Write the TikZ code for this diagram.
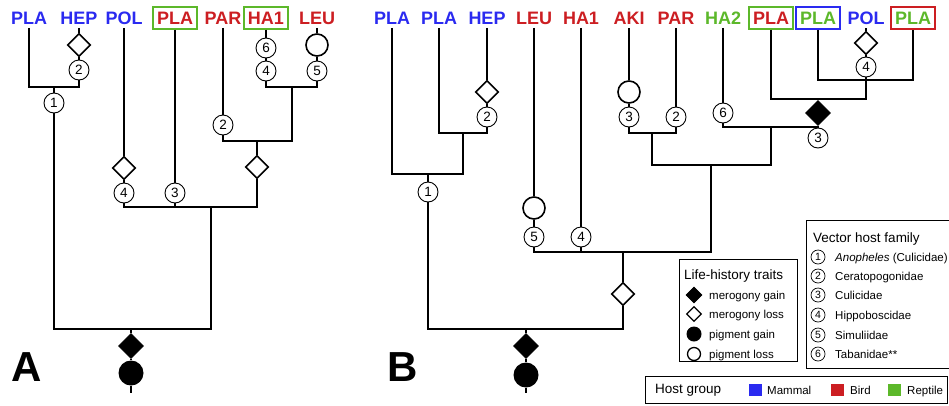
\documentclass[tikz,border=0pt]{standalone}
\usepackage{fontspec}
\setmainfont{Liberation Sans}
\usetikzlibrary{shapes.geometric}
\definecolor{mblue}{HTML}{2A2AF0}
\definecolor{bred}{HTML}{CC1E22}
\definecolor{rgreen}{HTML}{5CB82A}
\begin{document}
\begin{tikzpicture}[x=1pt,y=-1pt,
 tree/.style={line width=1.6pt},
 lab/.style={font=\bfseries\fontsize{18}{18}\selectfont, inner xsep=0pt, inner ysep=3.5pt},
 boxlab/.style={font=\bfseries\fontsize{18}{18}\selectfont, draw, line width=1.4pt, minimum width=44pt, minimum height=22pt, inner sep=0pt},
 num/.style={circle, draw, line width=0.9pt, fill=white, minimum size=20pt, inner sep=0pt, font=\fontsize{13.5}{13.5}\selectfont},
 mgain/.style={diamond, fill=black, draw, line width=0.8pt, minimum size=25pt, inner sep=0pt},
 mloss/.style={diamond, draw, line width=1.6pt, fill=white, minimum size=23pt, inner sep=0pt},
 pgain/.style={circle, fill=black, minimum size=25pt, inner sep=0pt},
 ploss/.style={circle, draw, line width=1.6pt, fill=white, minimum size=22pt, inner sep=0pt},
 bigletter/.style={font=\bfseries\fontsize{42}{42}\selectfont, inner sep=0pt},
 legtitle/.style={anchor=base west, font=\fontsize{13.5}{13.5}\selectfont, inner sep=0pt},
 legtext/.style={anchor=base west, font=\fontsize{11.5}{11.5}\selectfont, inner sep=0pt},
 legnum/.style={circle, draw, line width=0.7pt, minimum size=14pt, inner sep=0pt, font=\fontsize{10.5}{10.5}\selectfont},
 legbox/.style={draw, line width=1pt, anchor=north west, inner sep=0pt},
 swatch/.style={minimum width=13pt, minimum height=12pt, inner sep=0pt},
]
\useasboundingbox (0,0) rectangle (949,405);

% ---------------- Tree A ----------------
\node[lab,mblue] (a1) at (29,18) {PLA};
\node[lab,mblue] (a2) at (79,18) {HEP};
\node[lab,mblue] (a3) at (124,18) {POL};
\node[boxlab,text=bred,draw=rgreen] (a4) at (175,18) {PLA};
\node[lab,bred] (a5) at (223,18) {PAR};
\node[boxlab,text=bred,draw=rgreen] (a6) at (266,18) {HA1};
\node[lab,bred] (a7) at (317,18) {LEU};

\node[mloss] (a2d) at (79,45) {};
\node[num] (a2n) at (79,70) {2};
\coordinate (aj1) at (54,87);
\node[num] (a1n) at (54,103) {1};
\node[mloss] (a3d) at (124,168) {};
\node[num] (a3n) at (124,193) {4};
\node[num] (a4n) at (175,193) {3};
\node[num] (a5n) at (223,125) {2};
\node[num] (a6n6) at (266,48) {6};
\node[num] (a6n4) at (266,71) {4};
\node[ploss] (a7p) at (317,45) {};
\node[num] (a7n) at (317,71) {5};
\coordinate (aj2) at (292,87);
\coordinate (aj3) at (257,141);
\node[mloss] (aj3d) at (257,167) {};
\coordinate (aj4) at (211,207);
\coordinate (aroot) at (131,329);
\node[mgain] (ard) at (131,346) {};
\node[pgain] (arp) at (131,373) {};
\coordinate (aend) at (131,393);

\draw[tree] (a2) -- (a2d) -- (a2n);
\draw[tree] (a1) |- (aj1) -| (a2n);
\draw[tree] (aj1) -- (a1n);
\draw[tree] (a1n) |- (aroot) -| (aj4);
\draw[tree] (a3) -- (a3d) -- (a3n);
\draw[tree] (a3n) |- (aj3d |- aj4) -- (aj3d);
\draw[tree] (a4) -- (a4n) -- (a4n |- aj4);
\draw[tree] (a5) -- (a5n) |- (aj3) -| (aj2);
\draw[tree] (aj3) -- (aj3d);
\draw[tree] (a6) -- (a6n6) -- (a6n4) |- (aj2) -| (a7n);
\draw[tree] (a7) -- (a7p) -- (a7n);
\draw[tree] (aroot) -- (ard) -- (arp) -- (aend);
\node[bigletter] (labA) at (27,367) {A};

% ---------------- Tree B ----------------
\node[lab,mblue] (b1) at (392,18) {PLA};
\node[lab,mblue] (b2) at (439,18) {PLA};
\node[lab,mblue] (b3) at (487,18) {HEP};
\node[lab,bred] (b4) at (534,18) {LEU};
\node[lab,bred] (b5) at (581,18) {HA1};
\node[lab,bred] (b6) at (629,18) {AKI};
\node[lab,bred] (b7) at (676,18) {PAR};
\node[lab,rgreen] (b8) at (723,18) {HA2};
\node[boxlab,text=bred,draw=rgreen] (b9) at (771,18) {PLA};
\node[boxlab,text=rgreen,draw=mblue] (b10) at (818,18) {PLA};
\node[lab,mblue] (b11) at (866,18) {POL};
\node[boxlab,text=rgreen,draw=bred] (b12) at (913,18) {PLA};

\node[mloss] (b3d) at (487,92) {};
\node[num] (b3n) at (487,117) {2};
\coordinate (bj1) at (463,133);
\coordinate (bj2) at (428,174);
\node[num] (b1n) at (428,192) {1};
\node[ploss] (b4p) at (534,208) {};
\node[num] (b4n) at (534,237) {5};
\node[num] (b5n) at (581,237) {4};
\coordinate (bj3) at (623,252);
\node[mloss] (bj3d) at (623,294) {};
\coordinate (broot) at (526,329);
\node[mgain] (brd) at (526,346) {};
\node[pgain] (brp) at (526,375) {};
\coordinate (bend) at (526,393);
\node[ploss] (b6p) at (629,92) {};
\node[num] (b6n) at (629,117) {3};
\node[num] (b7n) at (676,117) {2};
\coordinate (bj4) at (652,133);
\node[num] (b8n) at (723,113) {6};
\node[mloss] (b11d) at (866,43) {};
\node[num] (b11n) at (866,67) {4};
\coordinate (bj5) at (866,80);
\coordinate (bj6) at (818,99);
\node[mgain] (bj6d) at (818,113) {};
\coordinate (bj7) at (771,127);
\node[num] (b3c) at (818,138) {3};
\coordinate (bj8) at (711,165);

\draw[tree] (b3) -- (b3d) -- (b3n);
\draw[tree] (b2) |- (bj1) -| (b3n);
\draw[tree] (b1) |- (bj2) -| (bj1);
\draw[tree] (bj2) -- (b1n);
\draw[tree] (b1n) |- (broot) -| (bj3d);
\draw[tree] (bj3d) -- (bj3);
\draw[tree] (b4) -- (b4p) -- (b4n) |- (bj3) -| (bj8);
\draw[tree] (b5) -- (b5n) -- (b5n |- bj3);
\draw[tree] (b6) -- (b6p) -- (b6n) |- (bj4) -| (b7n);
\draw[tree] (b7) -- (b7n);
\draw[tree] (bj4) |- (bj8) -| (bj7);
\draw[tree] (b8) -- (b8n) |- (bj7) -| (bj6d);
\draw[tree] (bj6d) -- (b3c);
\draw[tree] (b9) |- (bj6) -| (bj5);
\draw[tree] (bj6) -- (bj6d);
\draw[tree] (b10) |- (bj5) -| (b12);
\draw[tree] (b11) -- (b11d) -- (b11n) -- (bj5);
\draw[tree] (broot) -- (brd) -- (brp) -- (bend);
\node[bigletter] (labB) at (403,367) {B};

% ---------------- Legend: life-history traits ----------------
\node[legbox, minimum width=118pt, minimum height=102pt] (lhbox) at (679,259) {};
\node[legtitle] (lht) at (684,279) {Life-history traits};
\node[mgain, minimum size=16pt] (lh1s) at (694,295) {};
\node[legtext] (lh1t) at (709,299) {merogony gain};
\node[mloss, minimum size=15pt, line width=1.3pt] (lh2s) at (694,314) {};
\node[legtext] (lh2t) at (709,318) {merogony loss};
\node[pgain, minimum size=15pt] (lh3s) at (694,334) {};
\node[legtext] (lh3t) at (709,338) {pigment gain};
\node[ploss, minimum size=13pt, line width=1.3pt] (lh4s) at (694,354) {};
\node[legtext] (lh4t) at (709,358) {pigment loss};

% ---------------- Legend: vector host family ----------------
\node[legbox, minimum width=160pt, minimum height=148pt] (vbox) at (806,220) {};
\node[legtitle] (vt) at (813,242) {Vector host family};
\node[legnum] (v1s) at (818,257) {1};
\node[legtext] (v1t) at (835,261) {\textit{Anopheles} (Culicidae)};
\node[legnum] (v2s) at (818,276) {2};
\node[legtext] (v2t) at (835,280) {Ceratopogonidae};
\node[legnum] (v3s) at (818,295) {3};
\node[legtext] (v3t) at (835,299) {Culicidae};
\node[legnum] (v4s) at (818,315) {4};
\node[legtext] (v4t) at (835,319) {Hippoboscidae};
\node[legnum] (v5s) at (818,335) {5};
\node[legtext] (v5t) at (835,339) {Simuliidae};
\node[legnum] (v6s) at (818,354) {6};
\node[legtext] (v6t) at (835,358) {Tabanidae**};

% ---------------- Legend: host group ----------------
\node[legbox, minimum width=302pt, minimum height=27pt] (hbox) at (645,376) {};
\node[legtitle] (ht) at (655,393) {Host group};
\node[swatch, fill=mblue] (hs1) at (755,390) {};
\node[legtext] (ht1) at (767,394) {Mammal};
\node[swatch, fill=bred] (hs2) at (837,390) {};
\node[legtext] (ht2) at (850,394) {Bird};
\node[swatch, fill=rgreen] (hs3) at (894,390) {};
\node[legtext] (ht3) at (907,394) {Reptile};
\end{tikzpicture}
\end{document}
